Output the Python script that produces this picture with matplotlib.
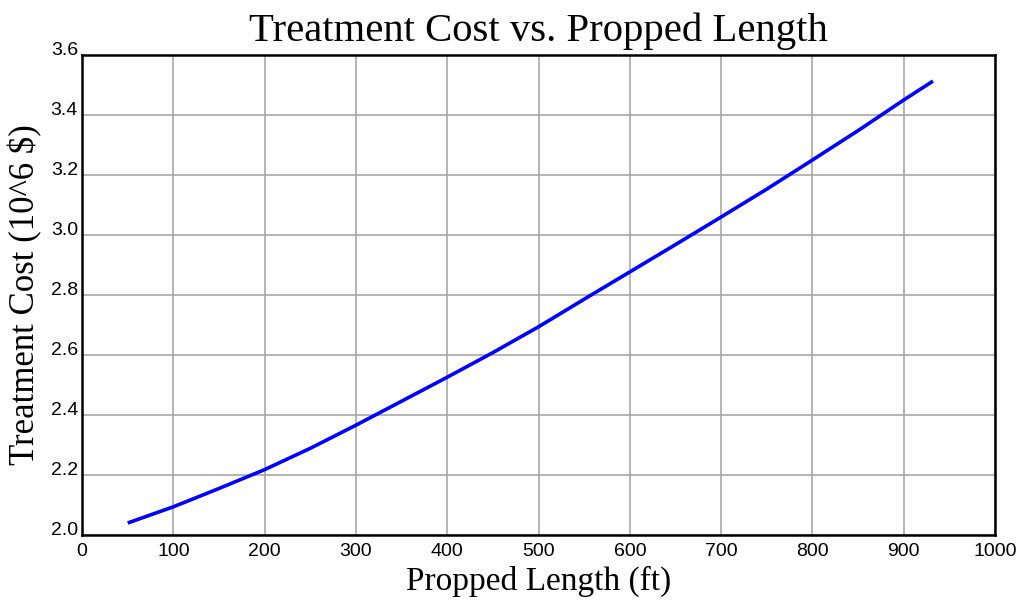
import matplotlib.pyplot as plt
import numpy as np

# treatment cost against propped fracture length
propped_length = [50, 100, 150, 200, 250, 300, 350, 400, 450, 500,
                  550, 600, 650, 700, 750, 800, 850, 900, 932]
treatment_cost = [2.04, 2.094, 2.155, 2.218, 2.289, 2.366, 2.446, 2.526, 2.608, 2.694,
                  2.786, 2.877, 2.968, 3.06, 3.153, 3.25, 3.348, 3.45, 3.513]

x_ticks = np.arange(0, 1001, 100)
y_ticks = np.arange(2.0, 3.61, 0.2)

fig = plt.figure(figsize=(10.19, 6.01), dpi=100)
ax = fig.add_axes([0.0805, 0.1098, 0.896, 0.7987])

ax.plot(propped_length, treatment_cost, color='#0000ff', lw=2.6, solid_capstyle='butt', zorder=3)

ax.set_xlim(0, 1000)
ax.set_ylim(2.0, 3.6)
ax.set_xticks(x_ticks)
ax.set_yticks(y_ticks)
ax.set_xticklabels([str(v) for v in x_ticks])
ax.set_yticklabels(['%.1f' % v for v in y_ticks])
ax.grid(True, color='#a0a0a0', lw=1.1)
ax.set_axisbelow(True)

ax.tick_params(length=0, labelsize=14, labelcolor='black')
ax.tick_params(axis='x', pad=6)
ax.tick_params(axis='y', pad=3)
for lab in ax.get_xticklabels() + ax.get_yticklabels():
    lab.set_family('Liberation Sans')
for lab in ax.get_yticklabels():
    lab.set_verticalalignment('baseline')

for sp in ax.spines.values():
    sp.set_linewidth(1.8)
    sp.set_color('black')

serif = 'Liberation Serif'
ax.set_title('Treatment Cost vs. Propped Length', family=serif, fontsize=29.3, pad=10)
ax.set_xlabel('Propped Length (ft)', family=serif, fontsize=24, labelpad=4)
ax.set_ylabel('Treatment Cost (10^6 $)', family=serif, fontsize=25, labelpad=6)

fig.savefig('out.png', dpi=100)
